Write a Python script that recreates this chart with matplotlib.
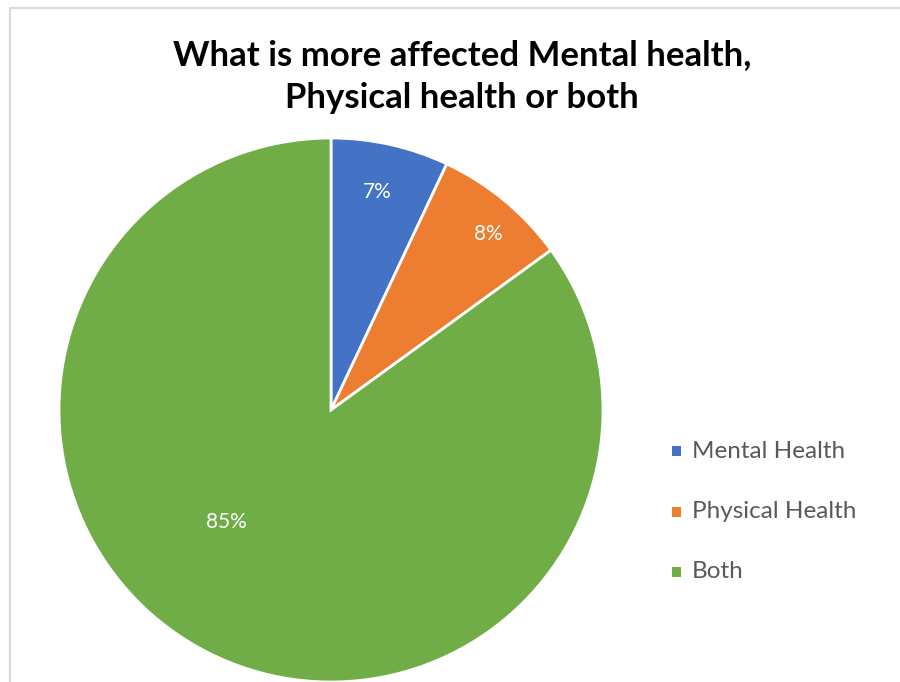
import matplotlib
matplotlib.use("Agg")
import matplotlib.pyplot as plt
from matplotlib.patches import Rectangle

categories = ["Mental Health", "Physical Health", "Both"]
shares = [7, 8, 85]
colors = ["#4472C4", "#ED7D31", "#70AD47"]
title = "What is more affected Mental health,\nPhysical health or both"

W, H = 900, 682
fig = plt.figure(figsize=(W / 100, H / 100), dpi=100)

# thin frame around the chart area (only top and left fall inside the image)
fig.patches.append(Rectangle((9.5 / W, -1), 2, 2 - 7.5 / H, transform=fig.transFigure,
                             fill=False, edgecolor="#d9d9d9", linewidth=1.5))

cx, cy, r = 331, 410, 272
ax = fig.add_axes([(cx - r) / W, (H - cy - r) / H, 2 * r / W, 2 * r / H])
wedges, texts, autotexts = ax.pie(
    shares, colors=colors, startangle=90, counterclock=False, radius=1,
    autopct="%1.0f%%", pctdistance=0.8,
    wedgeprops=dict(edgecolor="white", linewidth=2),
    textprops=dict(color="white", fontsize=15, family="Lato"))
ax.set_xlim(-1, 1)
ax.set_ylim(-1, 1)
ax.set_aspect("auto")
ax.axis("off")

# label spots in axes units (pixel offsets from the centre / radius)
label_pos = [((377 - cx) / r, (cy - 192) / r),
             ((488 - cx) / r, (cy - 234) / r),
             ((226 - cx) / r, (cy - 522) / r)]
for t, (x, y) in zip(autotexts, label_pos):
    t.set_position((x, y))
    t.set_ha("center")
    t.set_va("center")

fig.text(462 / W, 1 - 77 / H, title, ha="center", va="center", fontsize=25,
         fontweight="bold", family="Lato", linespacing=1.42, color="black")

# legend
for i, (name, c) in enumerate(zip(categories, colors)):
    y = 451 + i * 60.5
    fig.patches.append(Rectangle((672 / W, 1 - (y + 5) / H), 9 / W, 10 / H,
                                 transform=fig.transFigure, facecolor=c, edgecolor="none"))
    fig.text(692 / W, 1 - y / H, name, ha="left", va="center", fontsize=17.5,
             family="Lato", color="#595959")

fig.savefig("out.png", dpi=100)
